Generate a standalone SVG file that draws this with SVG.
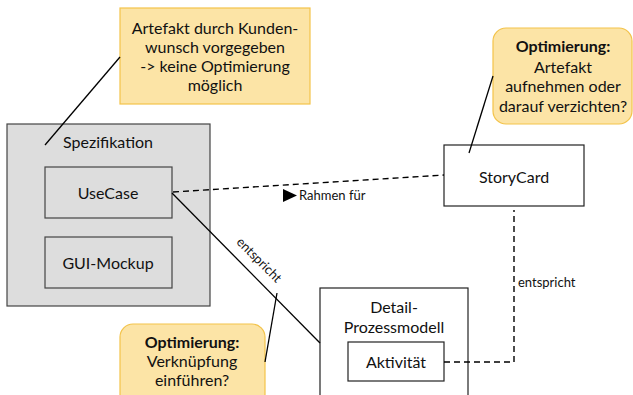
<svg xmlns="http://www.w3.org/2000/svg" width="633" height="395" viewBox="0 0 633 395">
  <style>
    text { font-family: Lato, "Open Sans", "Liberation Sans", sans-serif; fill: #111; }
    .t { font-size: 16px; text-anchor: middle; }
    .b { font-weight: bold; }
    .s { font-size: 13px; }
    .box { fill: #ffffff; stroke: #222; stroke-width: 1.2; }
    .gbox { fill: #dddddd; stroke: #444; stroke-width: 1.2; }
    .note { fill: #fce4a6; stroke: #f3c34a; stroke-width: 1.2; }
    .ln { fill: none; stroke: #000; stroke-width: 1.3; }
    .dash { fill: none; stroke: #000; stroke-width: 1.4; stroke-dasharray: 6 4; }
  </style>

  <!-- note: fixed by customer -->
  <g id="note-kunde">
    <rect class="note" x="120" y="8" width="190" height="96"/>
    <text class="t" x="215" y="34">Artefakt durch Kunden-</text>
    <text class="t" x="215" y="53">wunsch vorgegeben</text>
    <text class="t" x="215" y="72">-&gt; keine Optimierung</text>
    <text class="t" x="215" y="91">möglich</text>
  </g>

  <!-- specification container -->
  <g id="spezifikation">
    <rect class="gbox" x="7" y="124" width="203" height="182"/>
    <text class="t" x="108" y="148">Spezifikation</text>
  </g>
  <g id="usecase">
    <rect class="gbox" x="45" y="167" width="127" height="51"/>
    <text class="t" x="108" y="199">UseCase</text>
  </g>
  <g id="gui-mockup">
    <rect class="gbox" x="45" y="237" width="127" height="51"/>
    <text class="t" x="108" y="269">GUI-Mockup</text>
  </g>

  <!-- story card -->
  <g id="storycard">
    <rect class="box" x="444" y="145" width="140" height="61"/>
    <text class="t" x="514" y="183">StoryCard</text>
  </g>

  <!-- note: optimisation on story card -->
  <g id="note-storycard">
    <rect class="note" x="493" y="28" width="139" height="96" rx="13"/>
    <text class="t b" x="563" y="52">Optimierung:</text>
    <text class="t" x="563" y="73">Artefakt</text>
    <text class="t" x="563" y="92">aufnehmen oder</text>
    <text class="t" x="563" y="112">darauf verzichten?</text>
  </g>

  <!-- detail process model -->
  <g id="detail-prozessmodell">
    <rect class="box" x="320" y="288" width="148" height="120"/>
    <text class="t" x="394" y="313">Detail-</text>
    <text class="t" x="394" y="333">Prozessmodell</text>
  </g>
  <g id="aktivitaet">
    <rect class="box" x="348" y="342" width="96" height="39"/>
    <text class="t" x="396" y="368">Aktivität</text>
  </g>

  <!-- note: optimisation on link -->
  <g id="note-verknuepfung">
    <rect class="note" x="120" y="324" width="145" height="90" rx="13"/>
    <text class="t b" x="192" y="348">Optimierung:</text>
    <text class="t" x="192" y="367">Verknüpfung</text>
    <text class="t" x="192" y="386">einführen?</text>
  </g>

  <!-- connectors -->
  <g id="connectors">
    <line class="ln" x1="120" y1="57" x2="45" y2="145"/>
    <line class="ln" x1="493" y1="76" x2="469" y2="153"/>
    <line class="ln" x1="172" y1="193" x2="320" y2="343"/>
    <line class="ln" x1="265" y1="362" x2="277" y2="293"/>
    <line class="dash" x1="173" y1="192" x2="444" y2="175"/>
    <polyline class="dash" points="444,362 514,362 514,210"/>
    <polygon points="283,189 297,195.5 283,202" fill="#000"/>
    <text class="s" x="299" y="200">Rahmen für</text>
    <text class="s" x="0" y="0" text-anchor="middle" transform="translate(256,263) rotate(45)">entspricht</text>
    <text class="s" x="518" y="287">entspricht</text>
  </g>
</svg>
